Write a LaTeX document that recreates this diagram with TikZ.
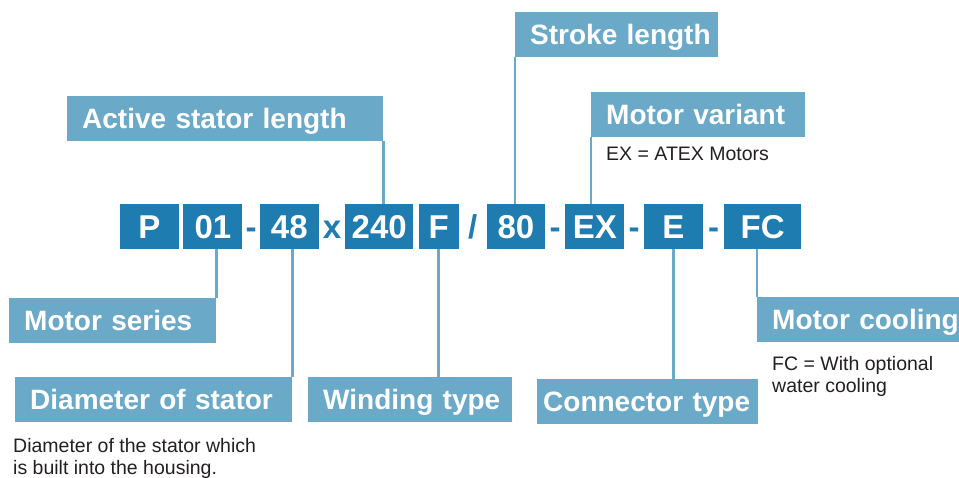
\documentclass[tikz,border=0pt]{standalone}
\usepackage{fontspec}
\setmainfont{Liberation Sans}
\usetikzlibrary{positioning,calc}
\definecolor{codeblue}{RGB}{30,124,177}
\definecolor{labelblue}{RGB}{107,169,201}
\definecolor{notegray}{RGB}{35,31,32}
\hyphenpenalty=10000
\exhyphenpenalty=10000

\begin{document}
\begin{tikzpicture}[
    x=1pt, y=-1pt,
    codebox/.style={fill=codeblue, text=white, font=\fontsize{33}{36}\selectfont\bfseries,
        inner sep=0pt, minimum height=45pt, text height=23.6pt, text depth=0pt},
    sepsign/.style={text=codeblue, font=\fontsize{33}{36}\selectfont\bfseries,
        inner sep=0pt, text height=23.6pt, text depth=0pt},
    labelbox/.style={fill=labelblue, text=white, font=\fontsize{28}{30}\selectfont\bfseries,
        inner xsep=15pt, inner ysep=0pt, minimum height=45pt, text height=20pt, text depth=0pt,
        anchor=north west, align=left},
    note/.style={text=notegray, font=\fontsize{19.5}{22.5}\selectfont, inner sep=0pt,
        anchor=base west, align=left},
    link/.style={draw=labelblue, line width=2.8pt},
    node distance=4pt
]
    \useasboundingbox (0,0) rectangle (959,477);

    % Type code
    \node[codebox, minimum width=59pt] (nP) at (149.5,226.5) {P};
    \node[codebox, minimum width=59pt, right=4pt of nP] (n01) {01};
    \node[codebox, minimum width=59pt, right=17pt of n01] (n48) {48};
    \node[codebox, minimum width=68pt, right=26pt of n48] (n240) {240};
    \node[codebox, minimum width=40pt, right=5pt of n240] (nF) {F};
    \node[codebox, minimum width=58pt, right=28pt of nF] (n80) {80};
    \node[codebox, minimum width=59pt, right=20pt of n80] (nEX) {EX};
    \node[codebox, minimum width=59pt, right=19pt of nEX] (nE) {E};
    \node[codebox, minimum width=77pt, right=21pt of nE] (nFC) {FC};

    % Separators
    \node[sepsign] (s1) at ($(n01.east)!.5!(n48.west)$) {-};
    \node[sepsign] (s2) at ($(n48.east)!.5!(n240.west)$) {x};
    \node[sepsign] (s3) at ($(nF.east)!.5!(n80.west)$) {/};
    \node[sepsign] (s4) at ($(n80.east)!.5!(nEX.west)$) {-};
    \node[sepsign] (s5) at ($(nEX.east)!.5!(nE.west)$) {-};
    \node[sepsign] (s6) at ($(nE.east)!.5!(nFC.west)$) {-};

    % Labels above
    \node[labelbox, text width=286pt] (active) at (67,96) {Active~stator~length};
    \node[labelbox, text width=173pt] (stroke) at (515,12) {Stroke~length};
    \node[labelbox, text width=184pt] (variant) at (591,92) {Motor~variant};

    % Labels below
    \node[labelbox, text width=177pt] (series) at (9,298) {Motor~series};
    \node[labelbox, text width=247pt] (diam) at (15,377) {Diameter~of~stator};
    \node[labelbox, text width=174pt] (winding) at (308,377) {Winding~type};
    \node[labelbox, text width=209pt, inner xsep=6pt] (conn) at (537,379) {Connector~type};
    \node[labelbox, text width=172pt] (cool) at (757,297) {Motor~cooling};

    % Notes (anchored at the last baseline)
    \node[note] (exnote) at (606,160) {EX = ATEX Motors};
    \node[note] (diamnote) at (13,474.5) {Diameter of the stator which\\is built into the housing.};
    \node[note] (coolnote) at (772,392.5) {FC = With optional\\water cooling};

    % Leader lines
    \draw[link] (active.south east) -- (active.south east |- n240.north);
    \draw[link] (stroke.south west) -- (stroke.south west |- n80.north);
    \draw[link] (variant.south west) -- (variant.south west |- nEX.north);
    \draw[link] (n01.south -| series.east) -- (series.north east);
    \draw[link] (n48.south -| diam.east) -- (diam.north east);
    \draw[link] (nF.south) -- (nF.south |- winding.north);
    \draw[link] (nE.south) -- (nE.south |- conn.north);
    \draw[link] (nFC.south -| cool.west) -- (cool.north west);
\end{tikzpicture}
\end{document}
